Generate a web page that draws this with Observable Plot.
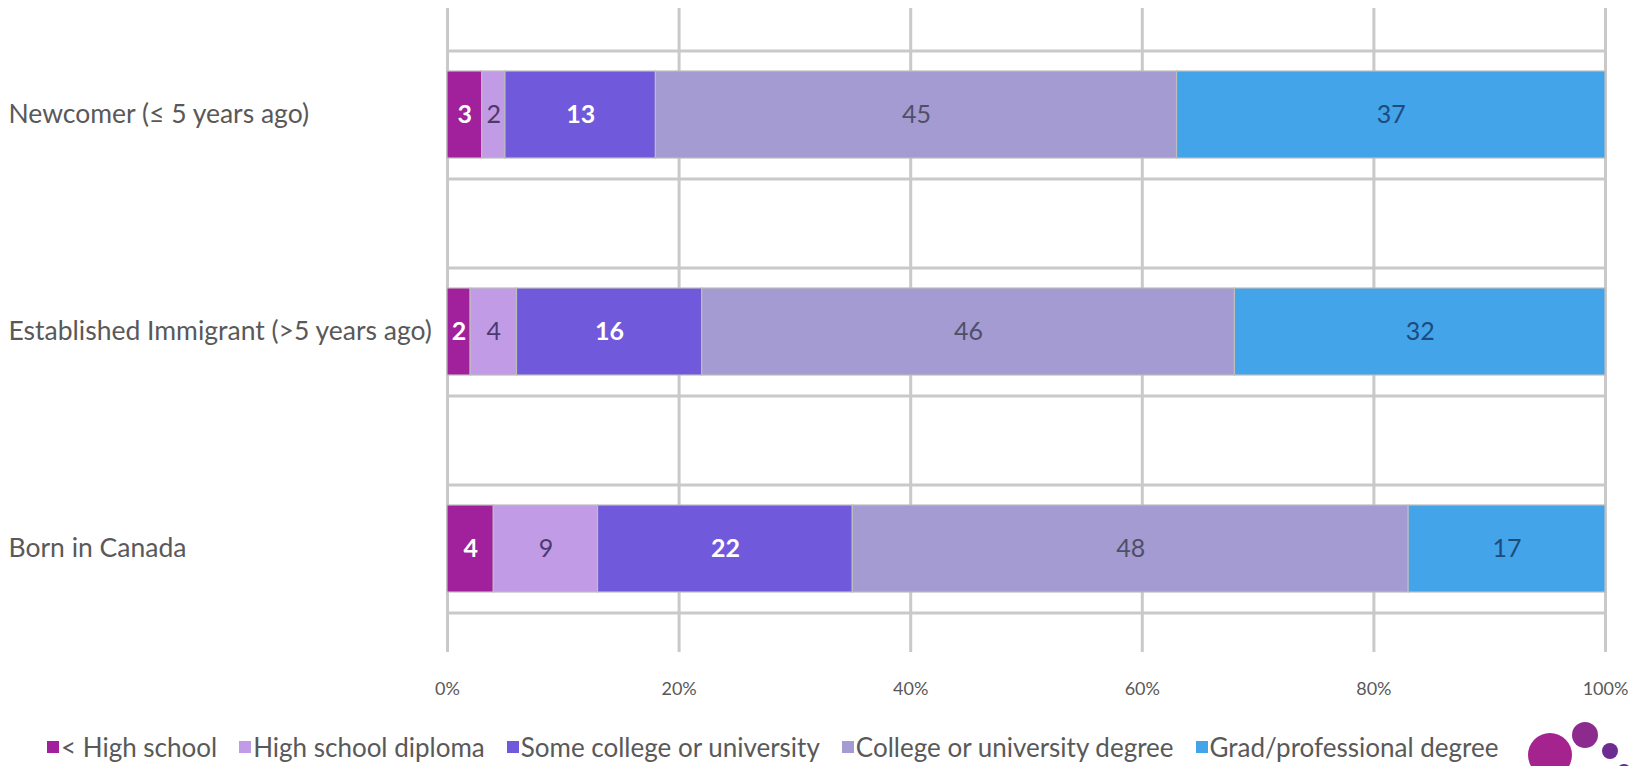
<!DOCTYPE html>
<html>
<head>
<meta charset="utf-8">
<script src="https://cdn.jsdelivr.net/npm/d3@7"></script>
<script src="https://cdn.jsdelivr.net/npm/@observablehq/plot@0.6"></script>
<style>
  html, body { margin: 0; padding: 0; background: #fff; }
  body { width: 1645px; height: 766px; overflow: hidden; position: relative; font-family: Lato, "Open Sans", sans-serif; }
  #chart { position: absolute; left: 0; top: 0; }
  #legend { position: absolute; left: 47px; top: 731px; display: flex; gap: 22px; font-size: 26px; color: #595959; white-space: nowrap; line-height: 32px; }
  #legend .item { display: flex; align-items: center; }
  #legend .sw { width: 12px; height: 12px; margin-right: 2px; display: inline-block; }
  #logo { position: absolute; left: 1500px; top: 700px; }
</style>
</head>
<body>
<div id="chart"></div>
<div id="legend"></div>
<svg id="logo" width="145" height="66">
  <circle cx="50" cy="55" r="22" fill="#a4238f"></circle>
  <circle cx="85" cy="35" r="13" fill="#8c2a8e"></circle>
  <circle cx="110" cy="51" r="8" fill="#6e2b91"></circle>
  <circle cx="124" cy="71" r="7" fill="#5b2c98"></circle>
</svg>
<script>
const groups = ["Newcomer (≤ 5 years ago)", "Established Immigrant (>5 years ago)", "Born in Canada"];
const levels = ["< High school", "High school diploma", "Some college or university", "College or university degree", "Grad/professional degree"];
const newcomer = [3, 2, 13, 45, 37];
const established = [2, 4, 16, 46, 32];
const bornInCanada = [4, 9, 22, 48, 17];
const xTicks = [0, 20, 40, 60, 80, 100];

const barColors = ["#a1209b", "#c29be6", "#7059da", "#a39bd1", "#44a4ea"];
const labelColors = ["#ffffff", "#4a3a70", "#ffffff", "#4f4f68", "#1d4c7c"];
const labelWeights = ["bold", "normal", "bold", "normal", "normal"];

const series = [newcomer, established, bornInCanada];
const rows = [];
groups.forEach((g, gi) => levels.forEach((l, li) => rows.push({group: g, level: l, value: series[gi][li]})));

const gridColor = "#c9c9c9";
const W = 1645, H = 720;

const marks = [
  Plot.ruleX(xTicks, {stroke: gridColor, strokeWidth: 3, insetTop: 2, insetBottom: 5}),
  Plot.ruleY(groups, {stroke: gridColor, strokeWidth: 3, dy: -64}),
  Plot.ruleY(groups, {stroke: gridColor, strokeWidth: 3, dy: 64}),
  Plot.barX(rows, Plot.stackX({x: "value", y: "group", fill: "level", stroke: "#bdbdbd", strokeWidth: 1.2})),
  ...levels.map((lv, i) => Plot.text(rows, Plot.stackX({
    x: "value", y: "group",
    text: d => d.level === lv ? String(d.value) : null,
    fill: labelColors[i], fontWeight: labelWeights[i], fontSize: 25
  }))),
  Plot.text(groups, {y: d => d, text: d => d, frameAnchor: "left", textAnchor: "start", dx: -439, fill: "#595959", fontSize: 26.5}),
  Plot.axisX(xTicks, {tickSize: 0, tickPadding: 25, tickFormat: d => d + "%", fontSize: 18, color: "#595959", label: null})
];

const chart = Plot.plot({
  width: W,
  height: H,
  marginTop: 6,
  marginBottom: H - 657,
  marginLeft: 447,
  marginRight: 40,
  style: {fontFamily: 'Lato, "Open Sans", sans-serif', background: "#fff"},
  x: {domain: [0, 100], axis: null},
  y: {domain: groups, axis: null, paddingInner: 0.6, paddingOuter: 0.3},
  color: {domain: levels, range: barColors},
  marks
});
document.getElementById("chart").appendChild(chart);

const legend = document.getElementById("legend");
levels.forEach((l, i) => {
  const it = document.createElement("div");
  it.className = "item";
  const sw = document.createElement("span");
  sw.className = "sw";
  sw.style.background = barColors[i];
  it.appendChild(sw);
  it.appendChild(document.createTextNode(l));
  legend.appendChild(it);
});
</script>
</body>
</html>
